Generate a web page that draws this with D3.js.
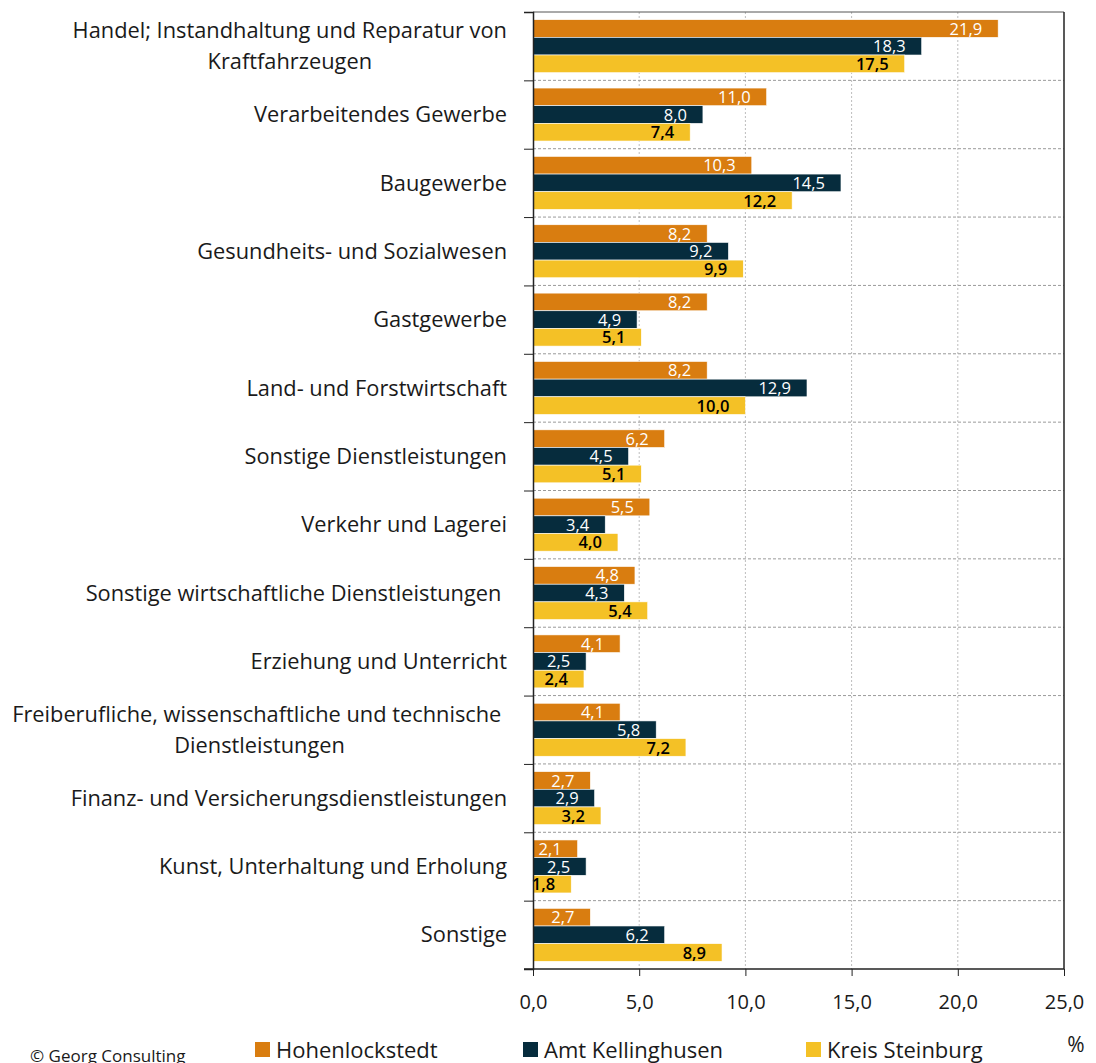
<!DOCTYPE html>
<html>
<head>
<meta charset="utf-8">
<script src="https://cdn.jsdelivr.net/npm/d3@7"></script>
<style>
  body { margin: 0; background: #fff; }
  svg { display: block; font-family: "Open Sans", sans-serif; }
</style>
</head>
<body>
<div id="chart"></div>
<script>
// Branchen (Beschäftigte), Anteil in %
var categories = [
    'Handel; Instandhaltung und Reparatur von\nKraftfahrzeugen',
    'Verarbeitendes Gewerbe',
    'Baugewerbe',
    'Gesundheits- und Sozialwesen',
    'Gastgewerbe',
    'Land- und Forstwirtschaft',
    'Sonstige Dienstleistungen',
    'Verkehr und Lagerei',
    'Sonstige wirtschaftliche Dienstleistungen ',
    'Erziehung und Unterricht',
    'Freiberufliche, wissenschaftliche und technische \nDienstleistungen',
    'Finanz- und Versicherungsdienstleistungen',
    'Kunst, Unterhaltung und Erholung',
    'Sonstige'
];
var seriesNames = ['Hohenlockstedt', 'Amt Kellinghusen', 'Kreis Steinburg'];
var hohenlockstedt  = [21.9, 11.0, 10.3, 8.2, 8.2, 8.2, 6.2, 5.5, 4.8, 4.1, 4.1, 2.7, 2.1, 2.7];
var amtKellinghusen = [18.3, 8.0, 14.5, 9.2, 4.9, 12.9, 4.5, 3.4, 4.3, 2.5, 5.8, 2.9, 2.5, 6.2];
var kreisSteinburg  = [17.5, 7.4, 12.2, 9.9, 5.1, 10.0, 5.1, 4.0, 5.4, 2.4, 7.2, 3.2, 1.8, 8.9];
var xTicks = [0, 5, 10, 15, 20, 25];

var colours = ['#D97D10', '#062C3D', '#F4C126'];
var labelColours = ['#fff', '#fff', '#000'];

var width = 1096, height = 1063;
var plotLeft = 533, plotRight = 1064, plotTop = 12, plotBottom = 969;

var svg = d3.select('#chart').append('svg')
    .attr('width', width)
    .attr('height', height);

var x = d3.scaleLinear().domain([0, 25]).range([plotLeft, plotRight]);
var y = d3.scaleBand().domain(d3.range(categories.length)).range([plotTop, plotBottom])
    .paddingInner(0.225).paddingOuter(0.1125);
var yInner = d3.scaleBand().domain(d3.range(seriesNames.length)).range([0, y.bandwidth()]);
var yBound = d3.scaleLinear().domain([0, categories.length]).range([plotTop, plotBottom]);

// vertical grid
svg.append('g').selectAll('line')
    .data(xTicks.slice(1, -1))
    .join('line')
    .attr('x1', d => x(d)).attr('x2', d => x(d))
    .attr('y1', plotTop).attr('y2', plotBottom)
    .attr('stroke', '#bdbdbd')
    .attr('stroke-dasharray', '2,2');

// horizontal separators
svg.append('g').selectAll('line')
    .data(d3.range(1, categories.length))
    .join('line')
    .attr('x1', plotLeft).attr('x2', plotRight)
    .attr('y1', d => yBound(d)).attr('y2', d => yBound(d))
    .attr('stroke', '#9a9a9a')
    .attr('stroke-dasharray', '3,2');

// top + right border
svg.append('line').attr('x1', plotLeft).attr('x2', plotRight).attr('y1', plotTop).attr('y2', plotTop)
    .attr('stroke', '#555');
svg.append('line').attr('x1', plotRight).attr('x2', plotRight).attr('y1', plotTop).attr('y2', plotBottom)
    .attr('stroke', '#222').attr('stroke-width', 1.5);

var seriesValues = [hohenlockstedt, amtKellinghusen, kreisSteinburg];

var groups = svg.append('g').selectAll('g')
    .data(categories.map((c, i) => ({ cat: c, i: i })))
    .join('g')
    .attr('transform', d => 'translate(0,' + y(d.i) + ')');

groups.selectAll('rect')
    .data(d => seriesValues.map((vals, s) => ({ s: s, v: vals[d.i] })))
    .join('rect')
    .attr('x', x(0))
    .attr('y', d => yInner(d.s))
    .attr('width', d => x(d.v) - x(0))
    .attr('height', yInner.bandwidth())
    .attr('fill', d => colours[d.s])
    .attr('stroke', '#fff')
    .attr('stroke-width', 0.6);

groups.selectAll('text')
    .data(d => seriesValues.map((vals, s) => ({ s: s, v: vals[d.i] })))
    .join('text')
    .attr('x', d => x(d.v) - 16)
    .attr('y', d => yInner(d.s) + yInner.bandwidth() / 2)
    .attr('dy', '0.37em')
    .attr('text-anchor', 'end')
    .attr('font-size', 16.5)
    .attr('font-weight', d => d.s === 2 ? 600 : 400)
    .attr('fill', d => labelColours[d.s])
    .text(d => d.v.toFixed(1).replace('.', ','));

// category axis (ticks at band boundaries)
var yAxis = svg.append('g')
    .attr('transform', 'translate(' + plotLeft + ',0)')
    .call(d3.axisLeft(yBound).tickValues(d3.range(0, categories.length + 1)).tickSize(9).tickFormat(''));
yAxis.select('.domain').attr('stroke', '#222').attr('stroke-width', 1.5);
yAxis.selectAll('.tick line').attr('stroke', '#222');

// category labels
var labelX = 507;
var catLabels = svg.append('g');
categories.forEach(function (c, i) {
    var lines = c.split('\n');
    var cy = y(i) + y.bandwidth() / 2;
    var lh = 31;
    var t = catLabels.append('text')
        .attr('font-size', 21.8)
        .attr('fill', '#1a1a1a')
        .style('white-space', 'pre');
    if (lines.length === 1) {
        t.attr('x', labelX).attr('y', cy).attr('dy', '0.35em')
            .attr('text-anchor', 'end').text(c);
    } else {
        // centre lines on the widest one, which is right aligned
        lines.forEach(function (l, j) {
            t.append('tspan').attr('x', 0).attr('y', cy + (j - (lines.length - 1) / 2) * lh)
                .attr('dy', '0.35em').text(l);
        });
        var w = d3.max(t.selectAll('tspan').nodes(), n => n.getComputedTextLength());
        t.attr('text-anchor', 'middle');
        t.selectAll('tspan').attr('x', labelX - w / 2);
    }
});

// value axis
var xAxis = svg.append('g')
    .attr('transform', 'translate(0,' + plotBottom + ')')
    .call(d3.axisBottom(x).tickValues(xTicks).tickSize(7).tickPadding(19)
        .tickFormat(d => d.toFixed(1).replace('.', ',')));
xAxis.select('.domain').attr('stroke', '#222').attr('stroke-width', 1.5)
    .attr('d', 'M' + (plotLeft - 9) + ',0H' + plotRight);
xAxis.selectAll('.tick line').attr('stroke', '#222');
xAxis.selectAll('.tick text')
    .attr('font-size', 20)
    .attr('fill', '#1a1a1a')
    .style('font-family', '"Open Sans", sans-serif');

svg.append('text')
    .attr('x', 1076).attr('y', 1052)
    .attr('text-anchor', 'middle')
    .attr('font-size', 21)
    .attr('fill', '#1a1a1a')
    .text('%');

// legend
var legendX = [255, 523, 806];
var legend = svg.append('g').selectAll('g')
    .data(seriesNames)
    .join('g')
    .attr('transform', (d, i) => 'translate(' + legendX[i] + ',1042)');
legend.append('rect')
    .attr('width', 15).attr('height', 15)
    .attr('fill', (d, i) => colours[i]);
legend.append('text')
    .attr('x', 21).attr('y', 15.5)
    .attr('font-size', 22)
    .attr('fill', '#1a1a1a')
    .text(d => d);

svg.append('text')
    .attr('x', 30).attr('y', 1062)
    .attr('font-size', 17)
    .attr('fill', '#1a1a1a')
    .text('\u00A9 Georg Consulting');
</script>
</body>
</html>
